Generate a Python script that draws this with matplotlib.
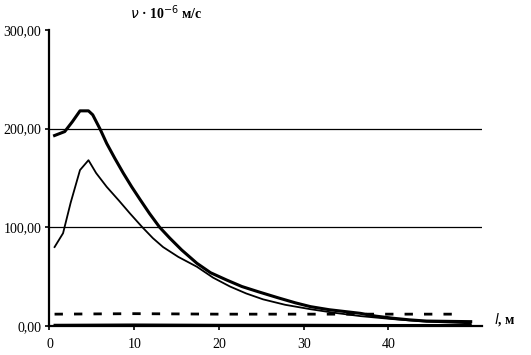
import numpy as np
import matplotlib.pyplot as plt

plt.rcParams['font.family'] = ['Liberation Serif', 'DejaVu Serif']

# upper (thick) curve
l_thick = [0.6, 1.8, 2.7, 3.6, 4.6, 5.1, 6.0, 6.75, 7.7, 8.7, 9.7, 10.7, 11.8, 13.0, 14.2,
           15.6, 17.4, 19.0, 20.9, 22.7, 24.6, 27.0, 29.0, 30.8, 33.0, 36.7, 38.5, 40.6, 42.5, 44.5, 49.7]
v_thick = [193, 197, 207, 218, 218, 214, 199, 185, 170, 155, 141, 128, 114, 100, 89,
           77, 63.5, 54, 46.6, 40, 34.8, 28.5, 23.5, 19.6, 16.5, 12.8, 10, 7.8, 6.2, 5.0, 4.4]

# lower (thin) curve
l_thin = [0.6, 1.6, 2.5, 3.6, 4.6, 5.5, 6.75, 8.2, 9.5, 10.9, 12.2, 13.4, 15.2, 17.4, 19.3,
          21.3, 23.2, 25.2, 27.8, 30.8, 33.5, 36.7, 40.5, 44.5, 49.7]
v_thin = [80, 94, 125, 158, 168, 155, 141, 127, 114, 100.6, 89, 80, 70, 60, 49,
          40, 33, 27, 21.5, 17, 13.5, 10, 7, 4.4, 2.7]

# dashed level and near-zero line
l_dash = [0.6, 10, 20, 30, 40, 48]
v_dash = [12, 12.5, 12, 12, 12, 12]
l_zero = [0.6, 10, 20, 30, 40, 49.7]
v_zero = [1.2, 1.5, 1.2, 1.2, 1.0, 1.0]

fig = plt.figure(figsize=(5.31, 3.55), dpi=100)
ax = fig.add_axes([0.0932, 0.0817, 0.814, 0.834])

for yv in [100, 200]:
    ax.axhline(yv, color='black', lw=0.9, zorder=1)

ax.plot(l_thick, v_thick, color='black', lw=2.2, zorder=3)
ax.plot(l_thin, v_thin, color='black', lw=1.3, zorder=3)
ax.plot(l_dash, v_dash, color='black', lw=2.0, dashes=(3, 4), zorder=3)
ax.plot(l_zero, v_zero, color='black', lw=1.5, zorder=3)

ax.set_xlim(0, 51)
ax.set_ylim(0, 300)
ax.set_xticks([0, 10, 20, 30, 40])
ax.set_yticks([0, 100, 200, 300])
ax.set_yticklabels(['0,00', '100,00', '200,00', '300,00'])
ax.spines['top'].set_visible(False)
ax.spines['right'].set_visible(False)
ax.spines['left'].set_linewidth(1.6)
ax.spines['bottom'].set_linewidth(1.6)
ax.tick_params(axis='both', direction='out', length=3, width=1.2, labelsize=10, pad=6)
ax.tick_params(axis='y', pad=3)

fig.text(0.245, 0.963, r'$\nu$ · 10$^{-6}$ м/с', ha='left', va='center', fontsize=10, fontweight='bold')
fig.text(0.93, 0.1, r'$l$, м', ha='left', va='center', fontsize=10, fontweight='bold')

fig.savefig('out.png', dpi=100)
